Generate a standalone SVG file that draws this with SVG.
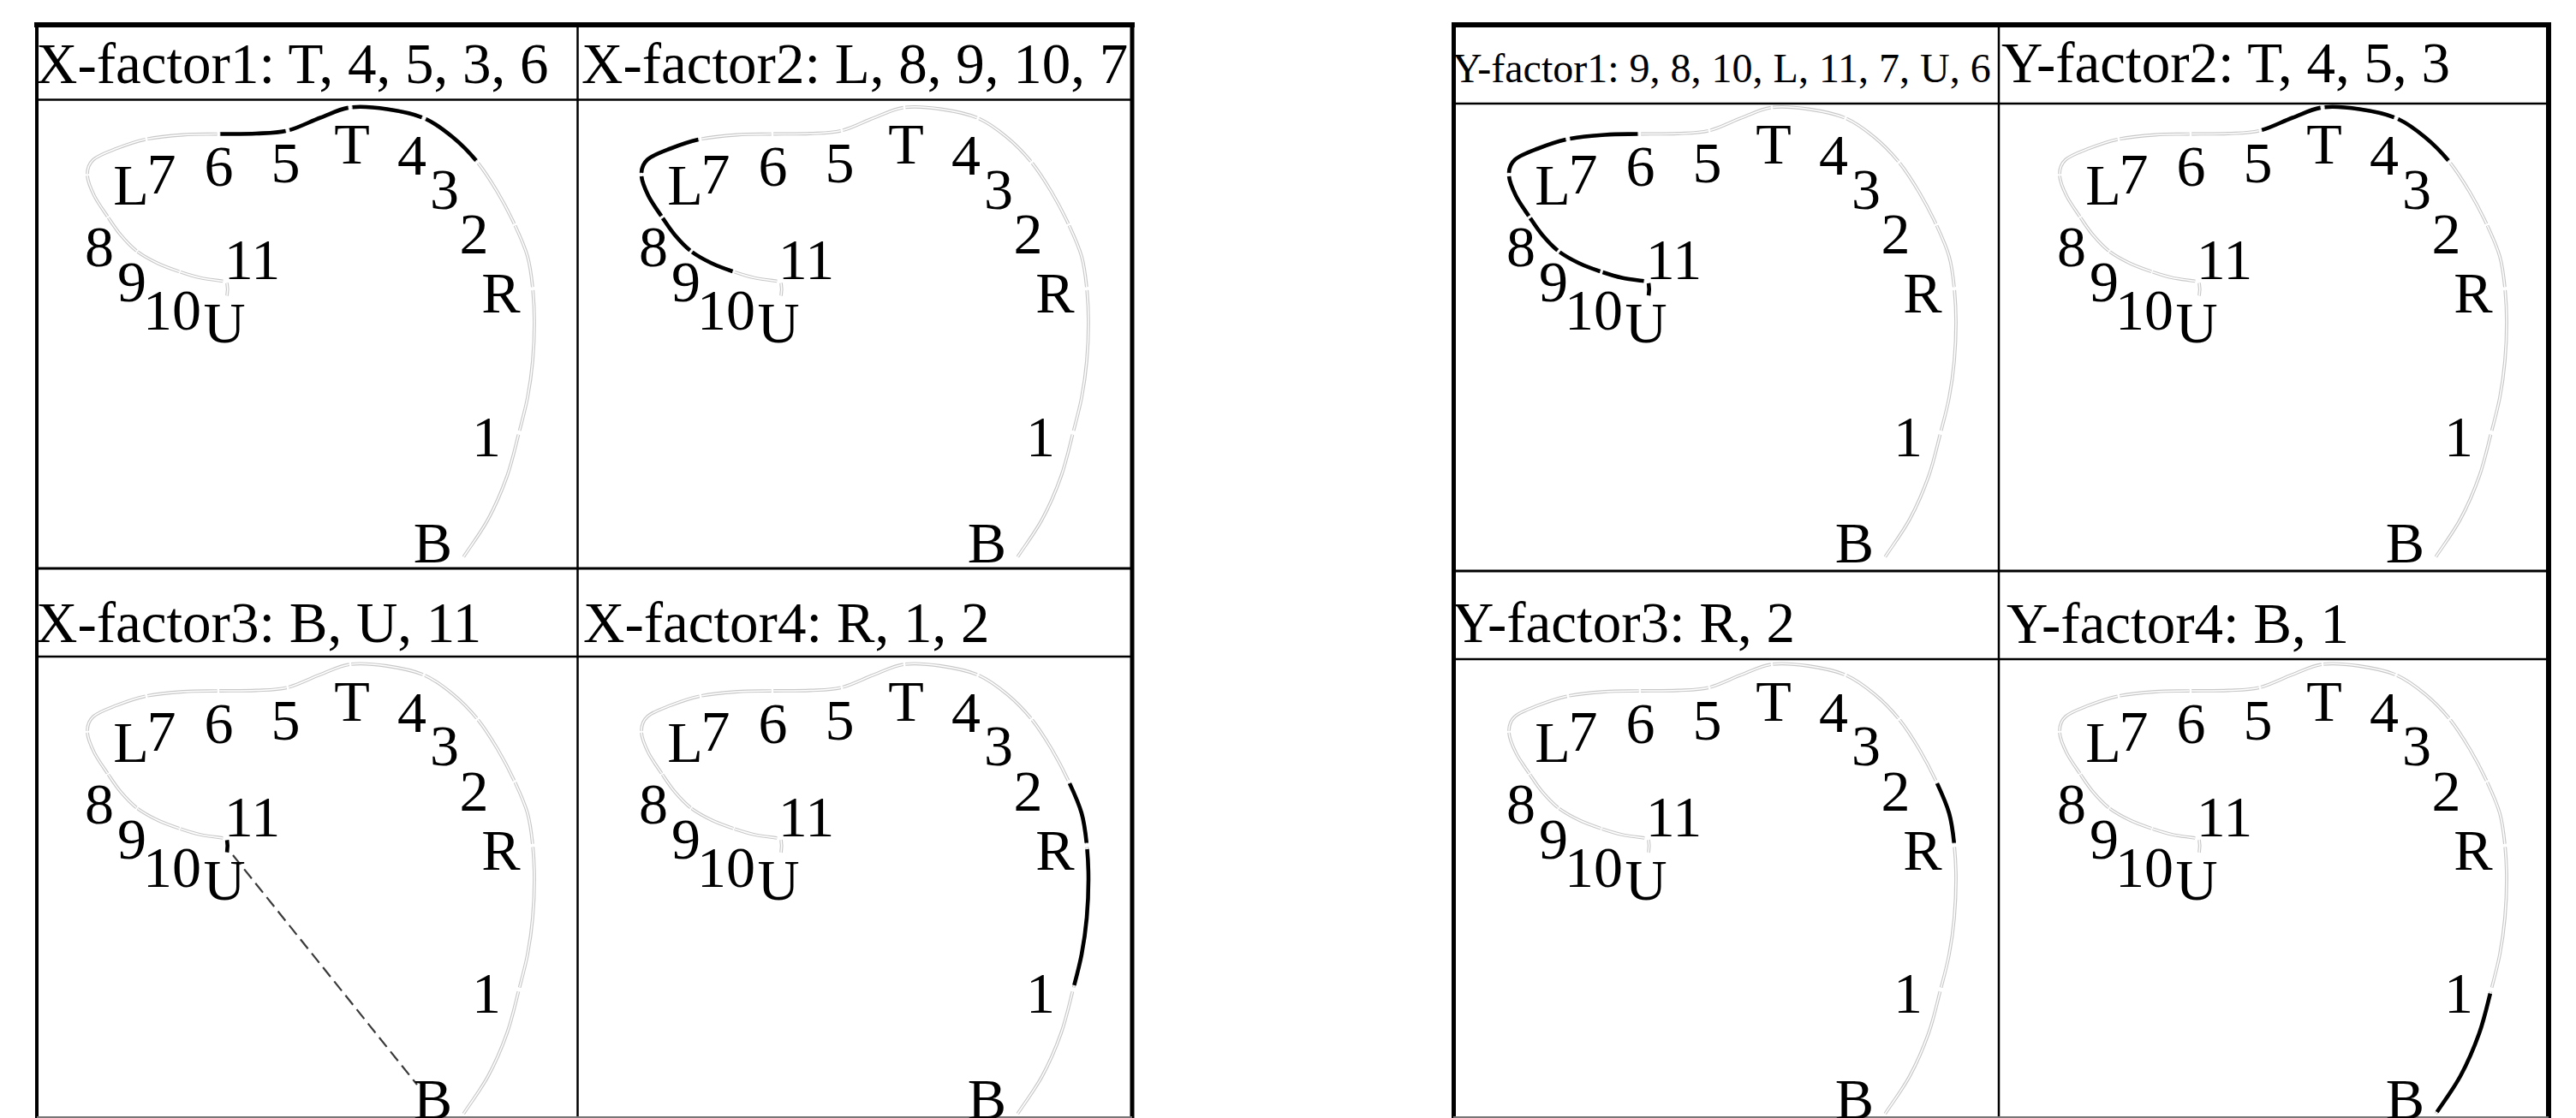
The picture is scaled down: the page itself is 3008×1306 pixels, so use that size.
<svg xmlns="http://www.w3.org/2000/svg" xmlns:xlink="http://www.w3.org/1999/xlink" width="3008" height="1306" viewBox="0 0 3008 1306">
<style>
.hd{font-family:"Liberation Serif","Times New Roman",serif;font-size:67px;fill:#000}
.hds{font-family:"Liberation Serif","Times New Roman",serif;font-size:48px;fill:#000}
.lb{font-family:"Liberation Serif","Times New Roman",serif;font-size:68px;fill:#000;text-anchor:middle}
.outer{stroke:#c8c8c8;stroke-width:3.8;stroke-dasharray:0 1.5 97 1.5;fill:none}
.inner{stroke:#fff;stroke-width:1.5;stroke-dasharray:0 1.5 97 1.5;fill:none}
.hl{stroke:#000;stroke-width:4.6;stroke-dasharray:0 3 94 3;fill:none}
.dash{stroke:#3a3a3a;stroke-width:2.2;stroke-dasharray:14 7;fill:none}
.tb{stroke:#000;fill:none}
</style>
<defs>
<g id="curve" fill="none">
<path id="lU11" pathLength="100" fill="none" d="M-409 214C-408 219 -408 224 -409 229"/>
<path id="lU10" pathLength="100" fill="none" d="M-413 212C-417.5 211.3 -431.5 209.8 -440 208C-448.5 206.2 -455.7 203.8 -464 201"/>
<path id="l109" pathLength="100" fill="none" d="M-464 201C-472.3 198.2 -481.7 195 -490 191C-498.3 187 -506.8 182.5 -514 177"/>
<path id="l98" pathLength="100" fill="none" d="M-514 177C-521.2 171.5 -527.3 164.7 -533 158C-538.7 151.3 -542.8 144.7 -548 137"/>
<path id="l8L" pathLength="100" fill="none" d="M-548 137C-553.2 129.3 -560 120.2 -564 112C-568 103.8 -571.8 95 -572 88"/>
<path id="lL7" pathLength="100" fill="none" d="M-572 88C-572.2 81 -570.7 75.2 -565 70C-559.3 64.8 -548.3 61 -538 57C-527.7 53 -516 48.7 -503 46"/>
<path id="l76" pathLength="100" fill="none" d="M-503 46C-490 43.3 -474 42 -460 41C-446 40 -433.2 40.3 -419 40"/>
<path id="l65" pathLength="100" fill="none" d="M-419 40C-404.8 39.8 -388.5 40.2 -375 39.5C-361.5 38.8 -350.5 39.1 -338 36"/>
<path id="l5T" pathLength="100" fill="none" d="M-338 36C-325.5 32.9 -312.2 25.5 -300 21C-287.8 16.5 -278 10.7 -265 9"/>
<path id="lT4" pathLength="100" fill="none" d="M-265 9C-252 7.3 -236.3 8.9 -222 11C-207.7 13.1 -191.8 16 -179 21.5"/>
<path id="l43" pathLength="100" fill="none" d="M-179 21.5C-166.2 27 -155.4 35.4 -145 44C-134.6 52.6 -125.2 62.3 -116.5 73"/>
<path id="l32" pathLength="100" fill="none" d="M-116.5 73C-107.8 83.7 -100.3 95.8 -93 108C-85.8 120.2 -78.8 133.5 -73 146"/>
<path id="l2R" pathLength="100" fill="none" d="M-73 146C-67.2 158.5 -61.5 170.7 -58 183C-54.5 195.3 -53.3 207.2 -52 220"/>
<path id="lR1" pathLength="100" fill="none" d="M-52 220C-50.7 232.8 -50 245.8 -50 260C-50 274.2 -50.7 290.3 -52 305C-53.3 319.7 -55.3 334 -58 348C-60.7 362 -64 373.7 -68 389"/>
<path id="l1B" pathLength="100" fill="none" d="M-68 389C-72 404.3 -76 423.2 -82 440C-88 456.8 -95.3 474 -104 490C-112.7 506 -124 520.7 -134 536"/>
</g>
</defs>
<rect x="0" y="0" width="3008" height="1306" fill="#fff"/>

<g id="table-lines">
<line class="tb" x1="40" y1="29" x2="1325" y2="29" stroke-width="6"/>
<line class="tb" x1="43" y1="26" x2="43" y2="1306" stroke-width="4"/>
<line class="tb" x1="1322" y1="26" x2="1322" y2="1306" stroke-width="5"/>
<line class="tb" x1="674.5" y1="29" x2="674.5" y2="1306" stroke-width="2.5"/>
<line class="tb" x1="43" y1="116.5" x2="1322" y2="116.5" stroke-width="2.5"/>
<line class="tb" x1="43" y1="664" x2="1322" y2="664" stroke-width="3"/>
<line class="tb" x1="43" y1="767" x2="1322" y2="767" stroke-width="2.5"/>
<line x1="43" y1="1305" x2="1322" y2="1305" stroke="#777" stroke-width="2"/>
<line class="tb" x1="1695" y1="29" x2="2979" y2="29" stroke-width="6"/>
<line class="tb" x1="1697.5" y1="26" x2="1697.5" y2="1306" stroke-width="5"/>
<line class="tb" x1="2976" y1="26" x2="2976" y2="1306" stroke-width="6"/>
<line class="tb" x1="2334" y1="29" x2="2334" y2="1306" stroke-width="2.5"/>
<line class="tb" x1="1697" y1="121" x2="2976" y2="121" stroke-width="2.5"/>
<line class="tb" x1="1697" y1="667" x2="2976" y2="667" stroke-width="3"/>
<line class="tb" x1="1697" y1="770" x2="2976" y2="770" stroke-width="2.5"/>
<line x1="1697" y1="1305" x2="2976" y2="1305" stroke="#777" stroke-width="2"/>
</g>

<g id="x-factor1">
<text class="hd" x="42" y="97">X-factor1: T, 4, 5, 3, 6</text>
<g transform="translate(674,116.5)">
<g id="x1-connectors">
<use href="#curve" class="outer"/><use href="#curve" class="inner"/>
<use href="#l65" class="hl"/><use href="#l5T" class="hl"/><use href="#lT4" class="hl"/><use href="#l43" class="hl"/>
</g>
<g id="x1-nodes" class="lb">
<text x="-521" y="122.5">L</text><text x="-485.5" y="109.5">7</text><text x="-418.5" y="100.5">6</text><text x="-340.5" y="96.5">5</text><text x="-263" y="74.5">T</text><text x="-193" y="87.5">4</text><text x="-155" y="127">3</text><text x="-120.5" y="179.5">2</text><text x="-89" y="248.5">R</text><text x="-106" y="416">1</text><text x="-168.5" y="540">B</text><text x="-558" y="194.5">8</text><text x="-520" y="235.5">9</text><text x="-473" y="268.5">10</text><text x="-412" y="283.5">U</text><text x="-379.5" y="209.5">11</text>
</g>
</g>
</g>

<g id="x-factor2">
<text class="hd" x="679" y="97">X-factor2: L, 8, 9, 10, 7</text>
<g transform="translate(1321,116.5)">
<g id="x2-connectors">
<use href="#curve" class="outer"/><use href="#curve" class="inner"/>
<use href="#lL7" class="hl"/><use href="#l8L" class="hl"/><use href="#l98" class="hl"/><use href="#l109" class="hl"/>
</g>
<g id="x2-nodes" class="lb">
<text x="-521" y="122.5">L</text><text x="-485.5" y="109.5">7</text><text x="-418.5" y="100.5">6</text><text x="-340.5" y="96.5">5</text><text x="-263" y="74.5">T</text><text x="-193" y="87.5">4</text><text x="-155" y="127">3</text><text x="-120.5" y="179.5">2</text><text x="-89" y="248.5">R</text><text x="-106" y="416">1</text><text x="-168.5" y="540">B</text><text x="-558" y="194.5">8</text><text x="-520" y="235.5">9</text><text x="-473" y="268.5">10</text><text x="-412" y="283.5">U</text><text x="-379.5" y="209.5">11</text>
</g>
</g>
</g>

<g id="x-factor3">
<text class="hd" x="42" y="750">X-factor3: B, U, 11</text>
<g transform="translate(674,767)">
<g id="x3-connectors">
<use href="#curve" class="outer"/><use href="#curve" class="inner"/>
<use href="#lU11" class="hl"/>
<line class="dash" x1="-402" y1="232" x2="-187" y2="500"/>
</g>
<g id="x3-nodes" class="lb">
<text x="-521" y="122.5">L</text><text x="-485.5" y="109.5">7</text><text x="-418.5" y="100.5">6</text><text x="-340.5" y="96.5">5</text><text x="-263" y="74.5">T</text><text x="-193" y="87.5">4</text><text x="-155" y="127">3</text><text x="-120.5" y="179.5">2</text><text x="-89" y="248.5">R</text><text x="-106" y="416">1</text><text x="-168.5" y="540">B</text><text x="-558" y="194.5">8</text><text x="-520" y="235.5">9</text><text x="-473" y="268.5">10</text><text x="-412" y="283.5">U</text><text x="-379.5" y="209.5">11</text>
</g>
</g>
</g>

<g id="x-factor4">
<text class="hd" x="681" y="750">X-factor4: R, 1, 2</text>
<g transform="translate(1321,767)">
<g id="x4-connectors">
<use href="#curve" class="outer"/><use href="#curve" class="inner"/>
<use href="#l2R" class="hl"/><use href="#lR1" class="hl"/>
</g>
<g id="x4-nodes" class="lb">
<text x="-521" y="122.5">L</text><text x="-485.5" y="109.5">7</text><text x="-418.5" y="100.5">6</text><text x="-340.5" y="96.5">5</text><text x="-263" y="74.5">T</text><text x="-193" y="87.5">4</text><text x="-155" y="127">3</text><text x="-120.5" y="179.5">2</text><text x="-89" y="248.5">R</text><text x="-106" y="416">1</text><text x="-168.5" y="540">B</text><text x="-558" y="194.5">8</text><text x="-520" y="235.5">9</text><text x="-473" y="268.5">10</text><text x="-412" y="283.5">U</text><text x="-379.5" y="209.5">11</text>
</g>
</g>
</g>

<g id="y-factor1">
<text class="hds" x="1696" y="96">Y-factor1: 9, 8, 10, L, 11, 7, U, 6</text>
<g transform="translate(2334,116.5)">
<g id="y1-connectors">
<use href="#curve" class="outer"/><use href="#curve" class="inner"/>
<use href="#l76" class="hl"/><use href="#lL7" class="hl"/><use href="#l8L" class="hl"/><use href="#l98" class="hl"/><use href="#l109" class="hl"/><use href="#lU10" class="hl"/><use href="#lU11" class="hl"/>
</g>
<g id="y1-nodes" class="lb">
<text x="-521" y="122.5">L</text><text x="-485.5" y="109.5">7</text><text x="-418.5" y="100.5">6</text><text x="-340.5" y="96.5">5</text><text x="-263" y="74.5">T</text><text x="-193" y="87.5">4</text><text x="-155" y="127">3</text><text x="-120.5" y="179.5">2</text><text x="-89" y="248.5">R</text><text x="-106" y="416">1</text><text x="-168.5" y="540">B</text><text x="-558" y="194.5">8</text><text x="-520" y="235.5">9</text><text x="-473" y="268.5">10</text><text x="-412" y="283.5">U</text><text x="-379.5" y="209.5">11</text>
</g>
</g>
</g>

<g id="y-factor2">
<text class="hd" x="2337" y="96">Y-factor2: T, 4, 5, 3</text>
<g transform="translate(2977,116.5)">
<g id="y2-connectors">
<use href="#curve" class="outer"/><use href="#curve" class="inner"/>
<use href="#l5T" class="hl"/><use href="#lT4" class="hl"/><use href="#l43" class="hl"/>
</g>
<g id="y2-nodes" class="lb">
<text x="-521" y="122.5">L</text><text x="-485.5" y="109.5">7</text><text x="-418.5" y="100.5">6</text><text x="-340.5" y="96.5">5</text><text x="-263" y="74.5">T</text><text x="-193" y="87.5">4</text><text x="-155" y="127">3</text><text x="-120.5" y="179.5">2</text><text x="-89" y="248.5">R</text><text x="-106" y="416">1</text><text x="-168.5" y="540">B</text><text x="-558" y="194.5">8</text><text x="-520" y="235.5">9</text><text x="-473" y="268.5">10</text><text x="-412" y="283.5">U</text><text x="-379.5" y="209.5">11</text>
</g>
</g>
</g>

<g id="y-factor3">
<text class="hd" x="1696" y="750">Y-factor3: R, 2</text>
<g transform="translate(2334,767)">
<g id="y3-connectors">
<use href="#curve" class="outer"/><use href="#curve" class="inner"/>
<use href="#l2R" class="hl"/>
</g>
<g id="y3-nodes" class="lb">
<text x="-521" y="122.5">L</text><text x="-485.5" y="109.5">7</text><text x="-418.5" y="100.5">6</text><text x="-340.5" y="96.5">5</text><text x="-263" y="74.5">T</text><text x="-193" y="87.5">4</text><text x="-155" y="127">3</text><text x="-120.5" y="179.5">2</text><text x="-89" y="248.5">R</text><text x="-106" y="416">1</text><text x="-168.5" y="540">B</text><text x="-558" y="194.5">8</text><text x="-520" y="235.5">9</text><text x="-473" y="268.5">10</text><text x="-412" y="283.5">U</text><text x="-379.5" y="209.5">11</text>
</g>
</g>
</g>

<g id="y-factor4">
<text class="hd" x="2343" y="751">Y-factor4: B, 1</text>
<g transform="translate(2977,767)">
<g id="y4-connectors">
<use href="#curve" class="outer"/><use href="#curve" class="inner"/>
<use href="#l1B" class="hl"/>
</g>
<g id="y4-nodes" class="lb">
<text x="-521" y="122.5">L</text><text x="-485.5" y="109.5">7</text><text x="-418.5" y="100.5">6</text><text x="-340.5" y="96.5">5</text><text x="-263" y="74.5">T</text><text x="-193" y="87.5">4</text><text x="-155" y="127">3</text><text x="-120.5" y="179.5">2</text><text x="-89" y="248.5">R</text><text x="-106" y="416">1</text><text x="-168.5" y="540">B</text><text x="-558" y="194.5">8</text><text x="-520" y="235.5">9</text><text x="-473" y="268.5">10</text><text x="-412" y="283.5">U</text><text x="-379.5" y="209.5">11</text>
</g>
</g>
</g>
</svg>
